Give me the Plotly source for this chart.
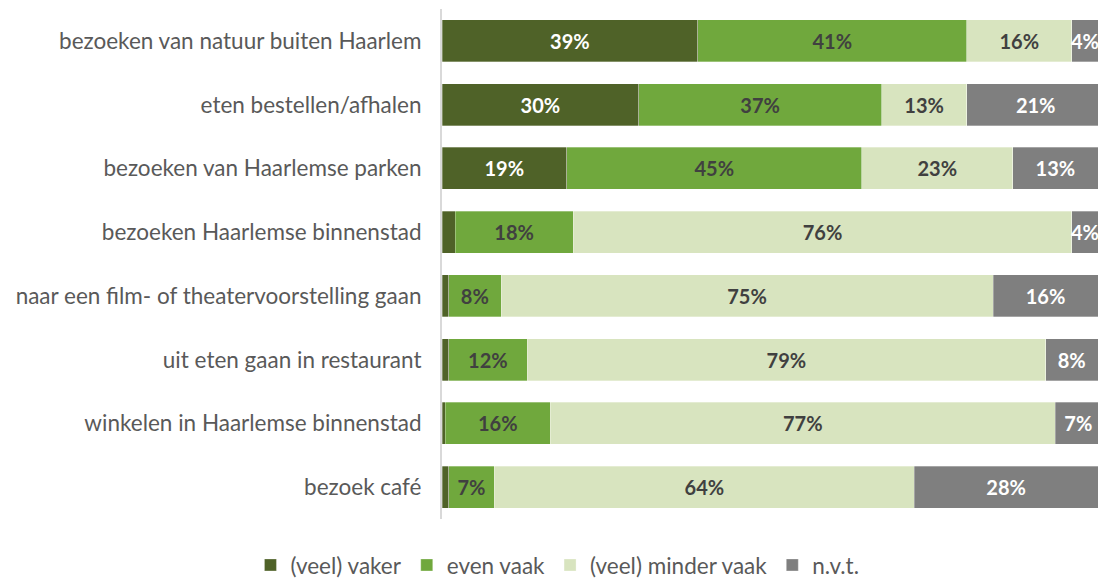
import plotly.graph_objects as go

categories = [
    "bezoeken van natuur buiten Haarlem",
    "eten bestellen/afhalen",
    "bezoeken van Haarlemse parken",
    "bezoeken Haarlemse binnenstad",
    "naar een film- of theatervoorstelling gaan",
    "uit eten gaan in restaurant",
    "winkelen in Haarlemse binnenstad",
    "bezoek café",
]
series_names = ["(veel) vaker", "even vaak", "(veel) minder vaak", "n.v.t."]
vaker = [39, 30, 19, 2, 1, 1, 0.5, 1]
even = [41, 37, 45, 18, 8, 12, 16, 7]
minder = [16, 13, 23, 76, 75, 79, 77, 64]
nvt = [4, 21, 13, 4, 16, 8, 7, 28]

series_values = [vaker, even, minder, nvt]
colors = ["#4F6228", "#70A83D", "#D8E4BF", "#7F7F7F"]
text_colors = ["#FFFFFF", "#404040", "#404040", "#FFFFFF"]

FONT = "Lato, 'Open Sans', sans-serif"

fig = go.Figure()
for name, vals, col, tcol in zip(series_names, series_values, colors, text_colors):
    fig.add_trace(go.Bar(
        y=categories, x=vals, name=name, orientation="h",
        marker=dict(color=col, line=dict(color="rgba(255,255,255,0.6)", width=0.5)),
        text=[f"{v:g}%" if v >= 3 else "" for v in vals],
        textposition="inside", insidetextanchor="middle",
        constraintext="none", textangle=0,
        textfont=dict(family=FONT, size=20, color=tcol, weight="bold"),
        hoverinfo="skip",
    ))

fig.update_layout(
    barmode="stack",
    bargap=0.34,
    width=1099, height=581,
    margin=dict(l=442, r=1, t=9, b=62),
    plot_bgcolor="white", paper_bgcolor="white",
    font=dict(family=FONT, color="#595959", size=22),
    xaxis=dict(range=[0, 100], showgrid=False, showticklabels=False, zeroline=False,
               showline=False, ticks=""),
    yaxis=dict(categoryorder="array", categoryarray=categories, autorange="reversed",
               showgrid=False, showline=True, linecolor="#D9D9D9", linewidth=2,
               ticks="", ticklabelstandoff=14,
               tickfont=dict(family=FONT, size=22.5, color="#595959")),
    legend=dict(orientation="h", xref="paper", x=0.176, xanchor="center",
                yref="container", y=0.027, yanchor="middle",
                font=dict(family=FONT, size=22.5, color="#595959"),
                itemwidth=30, traceorder="normal"),
    showlegend=True,
)

fig.write_html(
    "out.html",
    config={"displayModeBar": False},
    post_script="document.body.style.margin='0';document.body.style.overflow='hidden';",
)
